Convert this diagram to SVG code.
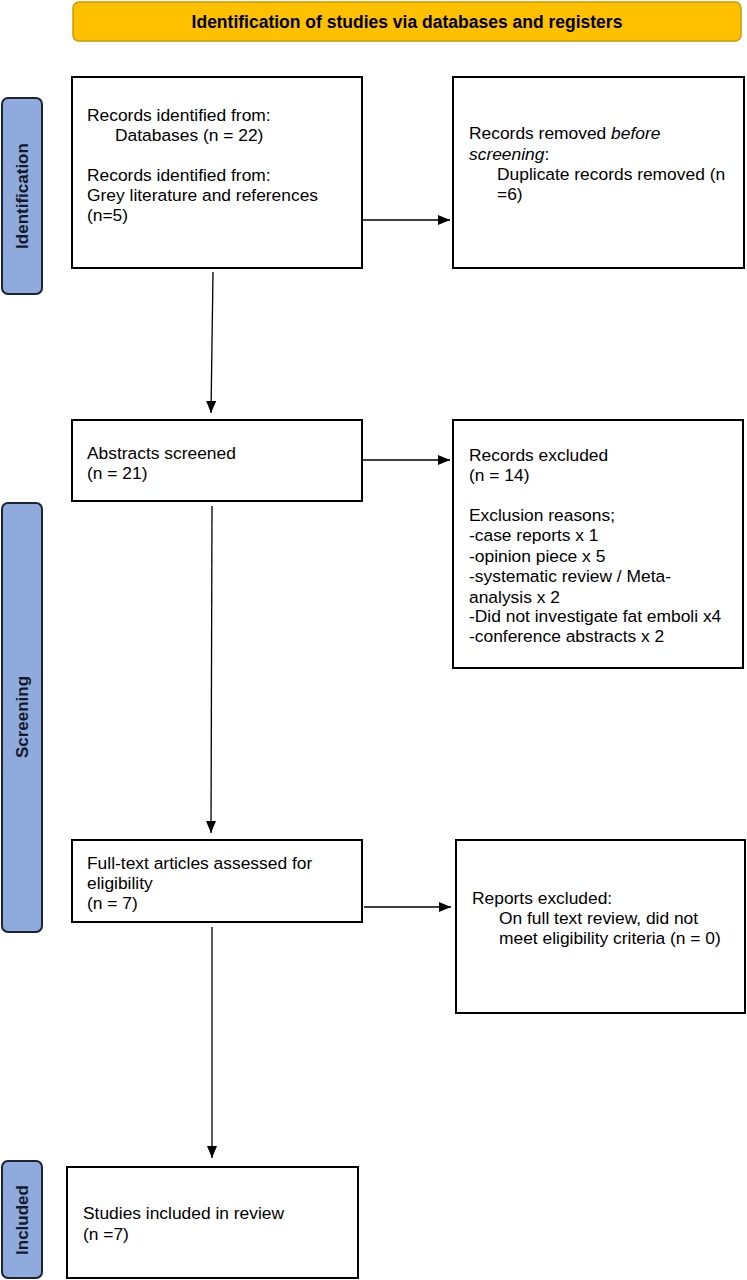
<svg xmlns="http://www.w3.org/2000/svg" width="747" height="1280" viewBox="0 0 747 1280">
<style>
.box{fill:#fff;stroke:#000;stroke-width:2}
.bar{fill:#8faadc;stroke:#1c2333;stroke-width:2}
.t{font-family:"Liberation Sans",Arial,sans-serif;font-size:17.4px;fill:#000}
.h{font-family:"Liberation Sans",Arial,sans-serif;font-size:17.5px;font-weight:bold;fill:#000}
.s{font-family:"Liberation Sans",Arial,sans-serif;font-size:17px;font-weight:bold;fill:#141a2a}
.c{stroke:#000;stroke-width:1.3;fill:none}
</style>
<defs>
<marker id="ah" viewBox="0 0 12 10" refX="12" refY="5" markerWidth="12" markerHeight="10" markerUnits="userSpaceOnUse" orient="auto">
<path d="M0,0 L12,5 L0,10 Z" fill="#000"/>
</marker>
</defs>
<g id="header">
<rect x="73" y="2" width="668" height="39" rx="6" fill="#ffc000" stroke="#c79a00" stroke-width="1.5"/>
<text class="h" x="407" y="28" text-anchor="middle">Identification of studies via databases and registers</text>
</g>
<g id="bar-identification">
<rect class="bar" x="2" y="98" width="40" height="196" rx="6"/>
<text class="s" transform="translate(28,196) rotate(-90)" text-anchor="middle">Identification</text>
</g>
<g id="bar-screening">
<rect class="bar" x="2" y="503" width="40" height="429" rx="6"/>
<text class="s" transform="translate(28,717) rotate(-90)" text-anchor="middle">Screening</text>
</g>
<g id="bar-included">
<rect class="bar" x="2" y="1161" width="40" height="117" rx="6"/>
<text class="s" transform="translate(28,1220) rotate(-90)" text-anchor="middle">Included</text>
</g>
<g id="records-identified">
<rect class="box" x="72" y="77" width="290" height="191"/>
<text class="t" x="87" y="121">Records identified from:</text>
<text class="t" x="115" y="141">Databases (n = 22)</text>
<text class="t" x="87" y="181">Records identified from:</text>
<text class="t" x="87" y="201">Grey literature and references</text>
<text class="t" x="87" y="221">(n=5)</text>
</g>
<g id="records-removed">
<rect class="box" x="453" y="77" width="291" height="191"/>
<text class="t" x="469" y="139">Records removed <tspan font-style="italic">before</tspan></text>
<text class="t" x="469" y="160"><tspan font-style="italic">screening</tspan>:</text>
<text class="t" x="497" y="180">Duplicate records removed (n</text>
<text class="t" x="497" y="200">=6)</text>
</g>
<g id="abstracts-screened">
<rect class="box" x="72" y="420" width="290" height="81"/>
<text class="t" x="87" y="459">Abstracts screened</text>
<text class="t" x="87" y="479">(n = 21)</text>
</g>
<g id="records-excluded">
<rect class="box" x="453" y="420" width="290" height="248"/>
<text class="t" x="469" y="461">Records excluded</text>
<text class="t" x="469" y="481">(n = 14)</text>
<text class="t" x="469" y="521">Exclusion reasons;</text>
<text class="t" x="469" y="541">-case reports x 1</text>
<text class="t" x="469" y="562">-opinion piece x 5</text>
<text class="t" x="469" y="582">-systematic review / Meta-</text>
<text class="t" x="469" y="603">analysis x 2</text>
<text class="t" x="469" y="622">-Did not investigate fat emboli x4</text>
<text class="t" x="469" y="642">-conference abstracts x 2</text>
</g>
<g id="full-text">
<rect class="box" x="72" y="840" width="290" height="82"/>
<text class="t" x="87" y="869">Full-text articles assessed for</text>
<text class="t" x="87" y="889">eligibility</text>
<text class="t" x="87" y="909">(n = 7)</text>
</g>
<g id="reports-excluded">
<rect class="box" x="456" y="840" width="289" height="173"/>
<text class="t" x="472" y="904">Reports excluded:</text>
<text class="t" x="499" y="924">On full text review, did not</text>
<text class="t" x="499" y="944">meet eligibility criteria (n = 0)</text>
</g>
<g id="studies-included">
<rect class="box" x="67" y="1167" width="291" height="111"/>
<text class="t" x="83" y="1219">Studies included in review</text>
<text class="t" x="83" y="1240">(n =7)</text>
</g>
<g id="connectors">
<line class="c" x1="363" y1="220" x2="450" y2="220" marker-end="url(#ah)"/>
<line class="c" x1="213" y1="272" x2="211" y2="413" marker-end="url(#ah)"/>
<line class="c" x1="363" y1="460" x2="450" y2="460" marker-end="url(#ah)"/>
<line class="c" x1="212" y1="506" x2="211" y2="833" marker-end="url(#ah)"/>
<line class="c" x1="364" y1="907" x2="451" y2="907" marker-end="url(#ah)"/>
<line class="c" x1="212" y1="927" x2="212" y2="1158" marker-end="url(#ah)"/>
</g>
</svg>
